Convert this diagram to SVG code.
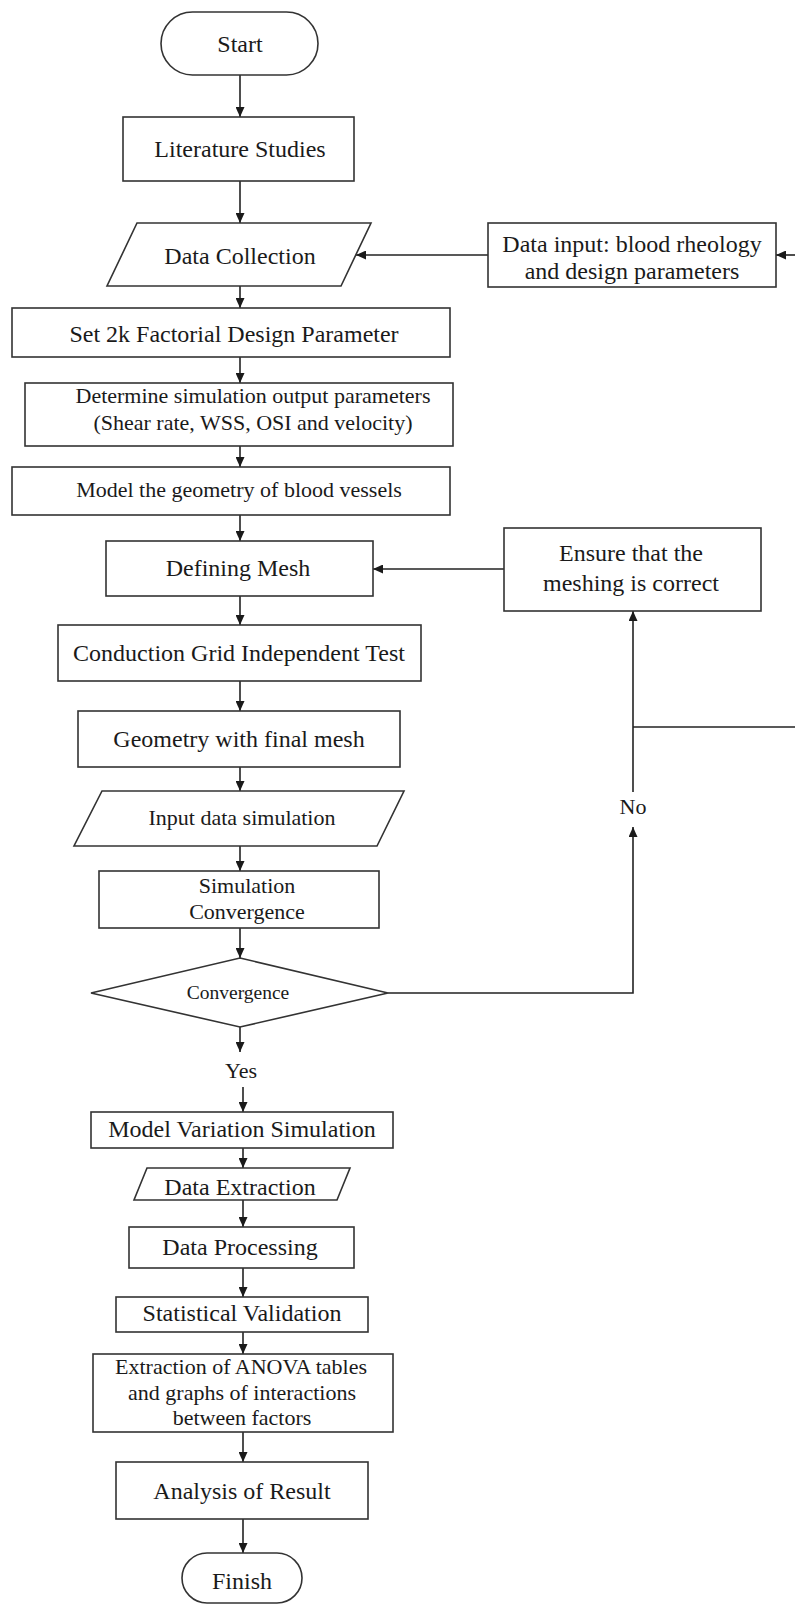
<svg xmlns="http://www.w3.org/2000/svg" width="795" height="1604" viewBox="0 0 795 1604">
<defs>
<marker id="ah" markerUnits="userSpaceOnUse" markerWidth="11" markerHeight="9" refX="10" refY="4.5" orient="auto">
<path d="M0,0 L10,4.5 L0,9 z" fill="#1a1a1a"/>
</marker>
<style>
.s{fill:#fff;stroke:#333;stroke-width:1.6}
.c{fill:none;stroke:#222;stroke-width:1.6}
.a{fill:none;stroke:#222;stroke-width:1.6;marker-end:url(#ah)}
text{font-family:"Liberation Serif","Times New Roman",serif;fill:#1a1a1a;text-anchor:middle}
.t24{font-size:24px}
.t22{font-size:22px}
.t19{font-size:19.5px}
</style>
</defs>
<rect x="0" y="0" width="795" height="1604" fill="#fff"/>
<g id="connectors">
<line class="a" x1="240" y1="75" x2="240" y2="117"/>
<line class="a" x1="240" y1="181" x2="240" y2="223"/>
<line class="a" x1="488" y1="255" x2="356" y2="255"/>
<line class="a" x1="795" y1="255" x2="776" y2="255"/>
<line class="a" x1="240" y1="286" x2="240" y2="308"/>
<line class="a" x1="240" y1="357" x2="240" y2="383"/>
<line class="a" x1="240" y1="446" x2="240" y2="467"/>
<line class="a" x1="240" y1="515" x2="240" y2="541"/>
<line class="a" x1="504" y1="569" x2="373" y2="569"/>
<line class="a" x1="240" y1="596" x2="240" y2="625"/>
<line class="a" x1="240" y1="681" x2="240" y2="711"/>
<line class="a" x1="240" y1="767" x2="240" y2="791"/>
<line class="a" x1="240" y1="846" x2="240" y2="871"/>
<line class="a" x1="240" y1="928" x2="240" y2="958"/>
<polyline class="a" points="388,993 633,993 633,827"/>
<line class="a" x1="633" y1="792" x2="633" y2="611"/>
<line class="c" x1="633" y1="727" x2="795" y2="727"/>
<line class="a" x1="240" y1="1027" x2="240" y2="1052"/>
<line class="a" x1="243" y1="1087" x2="243" y2="1112"/>
<line class="a" x1="243" y1="1148" x2="243" y2="1168"/>
<line class="a" x1="243" y1="1200" x2="243" y2="1227"/>
<line class="a" x1="243" y1="1268" x2="243" y2="1297"/>
<line class="a" x1="243" y1="1332" x2="243" y2="1354"/>
<line class="a" x1="243" y1="1432" x2="243" y2="1462"/>
<line class="a" x1="243" y1="1519" x2="243" y2="1553"/>
<text class="t22" x="633" y="814">No</text>
<text class="t22" x="241" y="1078">Yes</text>
</g>
<g id="start">
<rect class="s" x="161" y="12" width="157" height="63" rx="31.5"/>
<text class="t24" x="240" y="52">Start</text>
</g>
<g id="literature">
<rect class="s" x="123" y="117" width="231" height="64"/>
<text class="t24" x="240" y="157">Literature Studies</text>
</g>
<g id="data-collection">
<polygon class="s" points="137,223 371,223 341,286 107,286"/>
<text class="t24" x="240" y="264">Data Collection</text>
</g>
<g id="data-input">
<rect class="s" x="488" y="223" width="288" height="64"/>
<text class="t24" x="632" y="252">Data input: blood rheology</text>
<text class="t24" x="632" y="279">and design parameters</text>
</g>
<g id="factorial">
<rect class="s" x="12" y="308" width="438" height="49"/>
<text class="t24" x="234" y="342">Set 2k Factorial Design Parameter</text>
</g>
<g id="output-params">
<rect class="s" x="25" y="383" width="428" height="63"/>
<text class="t22" x="253" y="403">Determine simulation output parameters</text>
<text class="t22" x="253" y="430">(Shear rate, WSS, OSI and velocity)</text>
</g>
<g id="model-geometry">
<rect class="s" x="12" y="467" width="438" height="48"/>
<text class="t22" x="239" y="497">Model the geometry of blood vessels</text>
</g>
<g id="defining-mesh">
<rect class="s" x="106" y="541" width="267" height="55"/>
<text class="t24" x="238" y="576">Defining Mesh</text>
</g>
<g id="ensure-mesh">
<rect class="s" x="504" y="528" width="257" height="83"/>
<text class="t24" x="631" y="561">Ensure that the</text>
<text class="t24" x="631" y="591">meshing is correct</text>
</g>
<g id="grid-test">
<rect class="s" x="58" y="625" width="363" height="56"/>
<text class="t24" x="239" y="661">Conduction Grid Independent Test</text>
</g>
<g id="final-mesh">
<rect class="s" x="78" y="711" width="322" height="56"/>
<text class="t24" x="239" y="747">Geometry with final mesh</text>
</g>
<g id="input-data">
<polygon class="s" points="102,791 404,791 377,846 74,846"/>
<text class="t22" x="242" y="825">Input data simulation</text>
</g>
<g id="sim-convergence">
<rect class="s" x="99" y="871" width="280" height="57"/>
<text class="t22" x="247" y="893">Simulation</text>
<text class="t22" x="247" y="919">Convergence</text>
</g>
<g id="convergence-decision">
<polygon class="s" points="240,958 388,993 240,1027 91,993"/>
<text class="t19" x="238" y="999">Convergence</text>
</g>
<g id="model-variation">
<rect class="s" x="91" y="1112" width="302" height="36"/>
<text class="t24" x="242" y="1137">Model Variation Simulation</text>
</g>
<g id="data-extraction">
<polygon class="s" points="147,1168 350,1168 337,1200 134,1200"/>
<text class="t24" x="240" y="1195">Data Extraction</text>
</g>
<g id="data-processing">
<rect class="s" x="129" y="1227" width="225" height="41"/>
<text class="t24" x="240" y="1255">Data Processing</text>
</g>
<g id="statistical-validation">
<rect class="s" x="116" y="1297" width="252" height="35"/>
<text class="t24" x="242" y="1321">Statistical Validation</text>
</g>
<g id="anova">
<rect class="s" x="93" y="1354" width="300" height="78"/>
<text class="t22" x="241" y="1374">Extraction of ANOVA tables</text>
<text class="t22" x="242" y="1400">and graphs of interactions</text>
<text class="t22" x="242" y="1425">between factors</text>
</g>
<g id="analysis">
<rect class="s" x="116" y="1462" width="252" height="57"/>
<text class="t24" x="242" y="1499">Analysis of Result</text>
</g>
<g id="finish">
<rect class="s" x="182" y="1553" width="120" height="50" rx="25"/>
<text class="t24" x="242" y="1589">Finish</text>
</g>
</svg>
